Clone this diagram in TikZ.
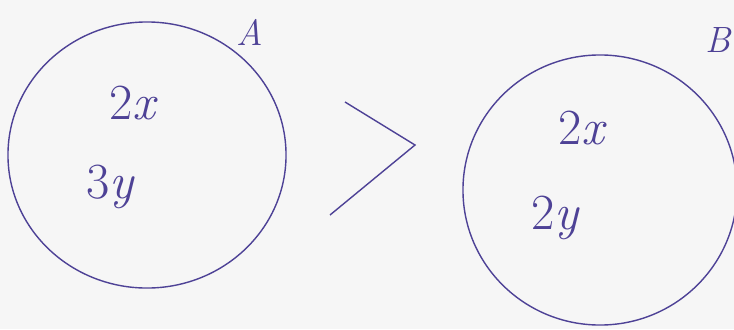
\documentclass[tikz,border=0pt]{standalone}
\usepackage{fontspec}
\usepackage{tikz}
\usetikzlibrary{shapes.geometric}
\definecolor{ink}{RGB}{78,66,150}
\definecolor{paper}{RGB}{246,246,246}

\begin{document}
\begin{tikzpicture}[
  x=0.025cm, y=-0.025cm,
  line width=1pt,
  set/.style={ellipse,draw=ink,inner sep=0pt},
  term/.style={text=ink,inner sep=1pt,font=\fontsize{36}{42}\selectfont},
  tag/.style={text=ink,inner sep=1pt,font=\fontsize{26}{30}\selectfont\itshape}
]
  \fill[paper] (0,0) rectangle (734,329);
  \useasboundingbox (0,0) rectangle (734,329);
  \node[set,minimum width=6.95cm,minimum height=6.65cm] (setA) at (147,155) {};
  \node[set,minimum width=6.85cm,minimum height=6.75cm] (setB) at (600,190) {};
  \node[tag] (labA) at (250,32) {A};
  \node[tag] (labB) at (718,40) {B};
  \node[term] (ax) at (134,103) {2\textit{x}};
  \node[term] (ay) at (111,187) {3\textit{y}};
  \node[term] (bx) at (583,128) {2\textit{x}};
  \node[term] (by) at (556,218) {2\textit{y}};
  \coordinate (gtTop) at (345,102);
  \coordinate (gtTip) at (415,145);
  \coordinate (gtBot) at (330,215);
  \draw[ink] (gtTop) -- (gtTip) -- (gtBot);
\end{tikzpicture}
\end{document}
